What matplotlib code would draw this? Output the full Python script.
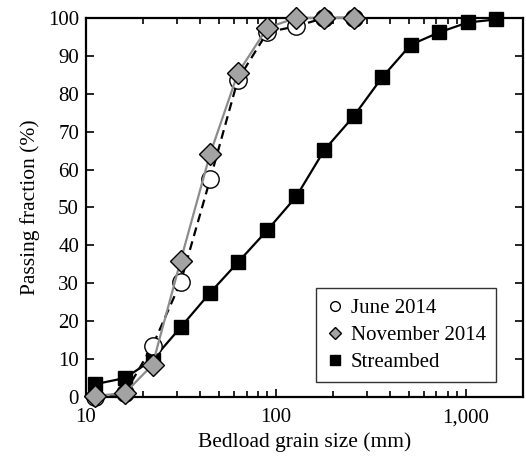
import matplotlib.pyplot as plt
import matplotlib.ticker as mticker
from matplotlib.lines import Line2D

plt.rcParams['font.family'] = ['Liberation Serif', 'DejaVu Serif']

# sieve sizes (mm)
sizes = [11.2, 16, 22.4, 31.5, 45, 63, 90, 128, 180, 256, 362, 512, 724, 1024, 1448]

june_x = sizes[:10]
june_y = [0, 1, 13.5, 30.3, 57.4, 83.7, 96.2, 97.8, 100, 100]

nov_x = sizes[:10]
nov_y = [0.3, 1, 8.5, 36, 64.1, 85.4, 97.4, 100, 100, 100]

bed_x = sizes
bed_y = [3.4, 5, 9.8, 18.4, 27.5, 35.5, 44, 52.9, 65.2, 74, 84.3, 92.9, 96.2, 98.8, 99.6]

fig = plt.figure(figsize=(5.26, 4.59), dpi=100)
ax = fig.add_axes([0.1635, 0.135, 0.831, 0.826])

ax.plot(bed_x, bed_y, color='black', lw=1.6, marker='s', ms=10,
        mfc='black', mec='black', zorder=2, clip_on=False)
ax.plot(june_x, june_y, color='black', lw=1.6, ls=(0, (4, 2.5)), marker='o', ms=12.5,
        mfc='white', mec='black', mew=1, zorder=3, clip_on=False)
ax.plot(nov_x, nov_y, color='#8c8c8c', lw=1.6, marker='D', ms=11,
        mfc='#a3a3a3', mec='black', mew=1, zorder=4, clip_on=False)

ax.set_xscale('log')
ax.set_xlim(10, 2000)
ax.set_ylim(0, 100)
ax.set_yticks(range(0, 101, 10))
ax.xaxis.set_major_locator(mticker.FixedLocator([10, 100, 1000]))
ax.xaxis.set_major_formatter(mticker.FixedFormatter(['10', '100', '1,000']))
ax.xaxis.set_minor_locator(mticker.LogLocator(base=10, subs=range(2, 10)))
ax.xaxis.set_minor_formatter(mticker.NullFormatter())

ax.tick_params(which='both', direction='in', top=True, right=True, labelsize=15, width=1.2)
ax.tick_params(which='major', length=6)
ax.tick_params(which='minor', length=4)
ax.tick_params(axis='x', pad=8)
ax.tick_params(axis='y', pad=5)
for s in ax.spines.values():
    s.set_linewidth(1.6)

ax.set_xlabel('Bedload grain size (mm)', fontsize=15.5, labelpad=4)
ax.set_ylabel('Passing fraction (%)', fontsize=15.5, labelpad=6)

handles = [
    Line2D([], [], ls='none', marker='o', ms=7, mfc='white', mec='black'),
    Line2D([], [], ls='none', marker='D', ms=6.5, mfc='#a3a3a3', mec='black'),
    Line2D([], [], ls='none', marker='s', ms=7, mfc='black', mec='black'),
]
leg = ax.legend(handles, ['June 2014', 'November 2014', 'Streambed'],
                loc='lower right', bbox_to_anchor=(0.962, 0.011), fontsize=15,
                frameon=True, fancybox=False, edgecolor='black',
                handlelength=0.8, handletextpad=0.35, borderpad=0.5, labelspacing=0.35)
leg.get_frame().set_linewidth(1)

fig.savefig('out.png', dpi=100)
